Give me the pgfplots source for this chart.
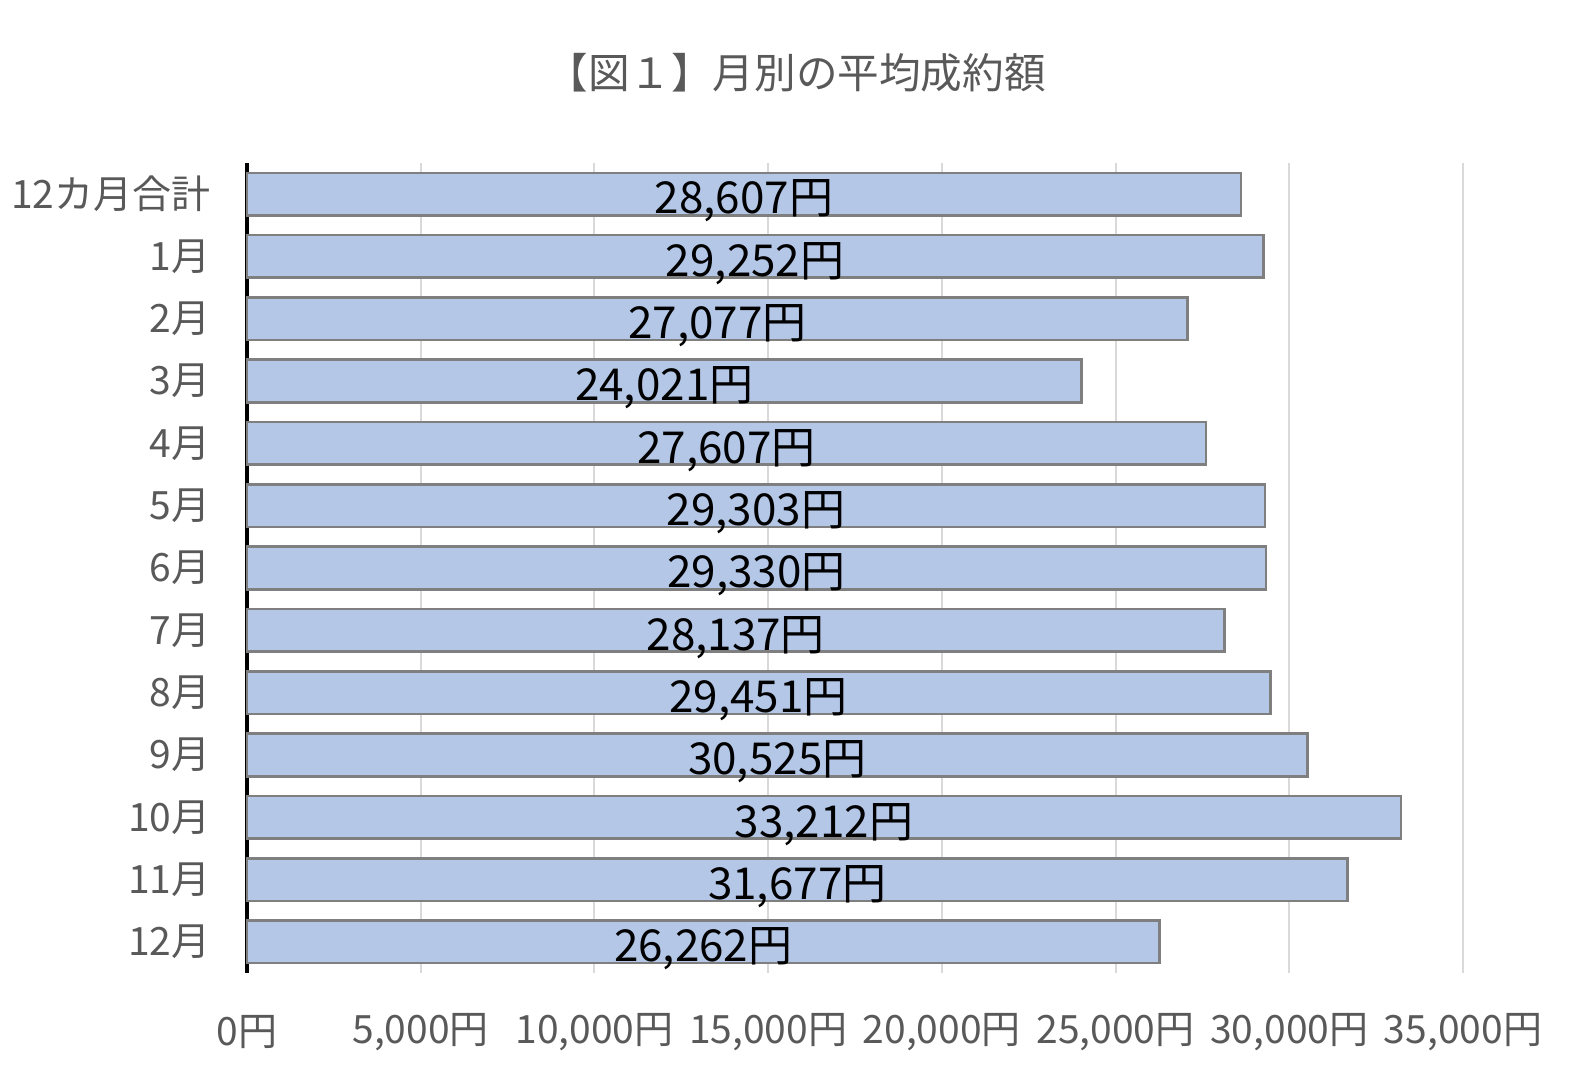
\documentclass[border=0pt]{standalone}
\usepackage{fontspec}
\setmainfont{Noto Sans CJK JP}
\usepackage{pgfplots}
\usepackage{pgfplotstable}
\pgfplotsset{compat=1.18}
\definecolor{barfill}{HTML}{B4C7E7}
\definecolor{baredge}{HTML}{7F7F7F}
\definecolor{gridc}{HTML}{D9D9D9}
\definecolor{txtgray}{HTML}{595959}
\pgfplotstableread{
y v lab
0 28607 28,607円
1 29252 29,252円
2 27077 27,077円
3 24021 24,021円
4 27607 27,607円
5 29303 29,303円
6 29330 29,330円
7 28137 28,137円
8 29451 29,451円
9 30525 30,525円
10 33212 33,212円
11 31677 31,677円
12 26262 26,262円
}\datatable
\begin{document}
\begin{tikzpicture}
\path[use as bounding box] (-123.5pt,-59pt) rectangle (674pt,486.5pt);
\begin{axis}[
  at={(0,0)}, anchor=south west,
  width=608pt, height=405pt, scale only axis,
  xmin=0, xmax=35000, ymin=-0.5, ymax=12.5,
  y dir=reverse,
  axis x line=bottom,
  axis y line=left,
  axis line style={-},
  x axis line style={draw=none},
  y axis line style={black, line width=1.6pt},
  xmajorgrids, major grid style={gridc, line width=1pt},
  major tick length=0pt,
  xtick={0,5000,10000,15000,20000,25000,30000,35000},
  xticklabels={0円,{5,000円},{10,000円},{15,000円},{20,000円},{25,000円},{30,000円},{35,000円}},
  ytick={0,1,2,3,4,5,6,7,8,9,10,11,12},
  yticklabels={12カ月合計,1月,2月,3月,4月,5月,6月,7月,8月,9月,10月,11月,12月},
  tick label style={font=\fontsize{19.5pt}{21pt}\selectfont, text=txtgray, inner sep=1pt},
  xticklabel style={anchor=center, yshift=-29.5pt},
  yticklabel style={anchor=east, xshift=-17pt},
  clip=false,
]
\addplot[xbar, bar width=21.3pt, fill=barfill, draw=baredge, line width=1.3pt]
  table[x=v, y=y] {\datatable};
\addplot[draw=none, mark=none, nodes near coords, point meta=explicit symbolic,
  nodes near coords style={anchor=center, text=black, font=\fontsize{22pt}{26pt}\selectfont, yshift=-3.5pt}]
  table[x expr=\thisrow{v}/2, y=y, meta=lab] {\datatable};
\end{axis}
\node[text=txtgray, font=\fontsize{20.8pt}{24pt}\selectfont] at (274.5pt,450pt) {【図１】月別の平均成約額};
\end{tikzpicture}
\end{document}
